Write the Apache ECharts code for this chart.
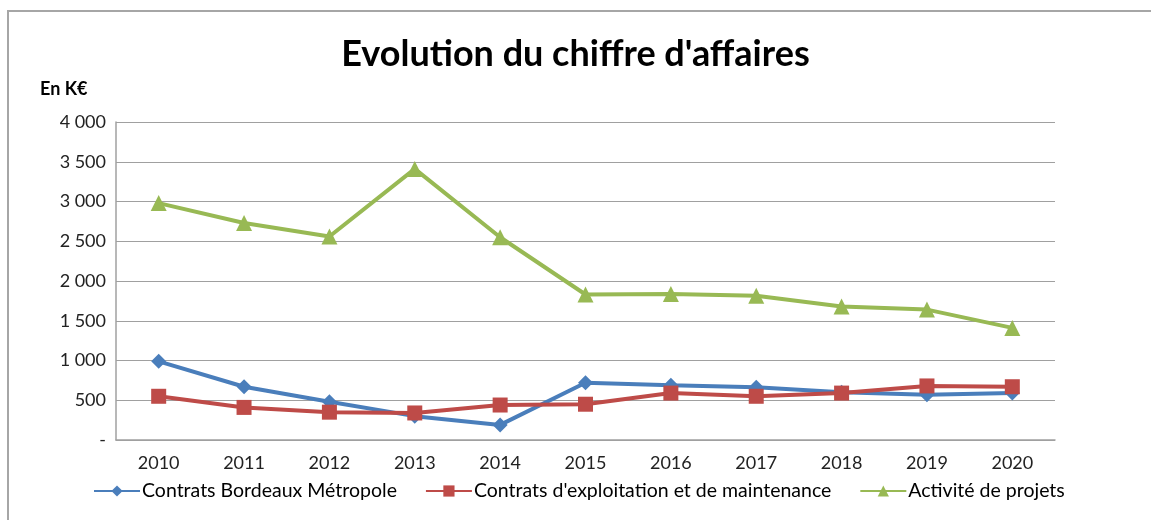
<!DOCTYPE html>
<html><head><meta charset="utf-8">
<script src="https://cdn.jsdelivr.net/npm/echarts@6/dist/echarts.min.js"></script>
<style>html,body{margin:0;padding:0;background:#fff}#c{width:1151px;height:520px}</style>
</head><body><div id="c"></div>
<script>
const categories = ['2010','2011','2012','2013','2014','2015','2016','2017','2018','2019','2020'];
const bordeaux = [990, 670, 480, 300, 190, 720, 690, 665, 600, 570, 590];
const exploitation = [550, 410, 350, 340, 440, 450, 590, 550, 590, 680, 670];
const projets = [2980, 2730, 2560, 3410, 2550, 1830, 1835, 1815, 1680, 1640, 1410];
const seriesNames = ['Contrats Bordeaux Métropole', "Contrats d'exploitation et de maintenance", 'Activité de projets'];
const yTicks = { min: 0, max: 4000, interval: 500 };

const font = 'Lato, "Open Sans", sans-serif';
const chart = echarts.init(document.getElementById('c'));
function fmt(v){ if (v === 0) return '-'; return String(v).replace(/\B(?=(\d{3})+(?!\d))/g, ' '); }
function mk(name, data, color, symbol, size){
  return { name, type:'line', data, symbol, symbolSize:size, showSymbol:true,
    lineStyle:{ color, width:4 }, itemStyle:{ color }, z: 3 };
}
chart.setOption({
  animation:false,
  title:{ text:"Evolution du chiffre d'affaires", left:'center', top:31,
    textStyle:{ fontFamily:font, fontWeight:'bold', fontSize:36, color:'#000' } },
  graphic:[
    { type:'rect', shape:{ x:8, y:11, width:3000, height:3000 }, style:{ fill:'none', stroke:'#a6a6a6', lineWidth:2 }, silent:true },
    { type:'text', left:40, top:80, style:{ text:'En K€', font:'bold 18px ' + font, fill:'#000' } }
  ],
  legend:{ bottom:14, left:88, itemWidth:46, itemHeight:14, itemGap:28,
    textStyle:{ fontFamily:font, fontSize:19.5, color:'#000', padding:[0,0,0,-3] }, data: seriesNames },
  grid:{ left:116, right:96, top:122, bottom:80, containLabel:false },
  xAxis:{ type:'category', data:categories, boundaryGap:true,
    axisLine:{ lineStyle:{ color:'#a0a0a0', width:1.5 } }, axisTick:{ show:false },
    axisLabel:{ fontFamily:font, fontSize:18, color:'#222', margin:14 } },
  yAxis:{ type:'value', min:yTicks.min, max:yTicks.max, interval:yTicks.interval,
    axisLine:{ show:true, lineStyle:{ color:'#a0a0a0', width:1.5 } }, axisTick:{ show:false },
    splitLine:{ lineStyle:{ color:'#a0a0a0', width:1.2 } },
    axisLabel:{ fontFamily:font, fontSize:18, color:'#222', margin:10, formatter:fmt } },
  series:[
    mk(seriesNames[0], bordeaux, '#4a7ebb', 'diamond', 15),
    mk(seriesNames[1], exploitation, '#be4b48', 'rect', 15),
    mk(seriesNames[2], projets, '#98b954', 'triangle', 16)
  ]
});
</script></body></html>
